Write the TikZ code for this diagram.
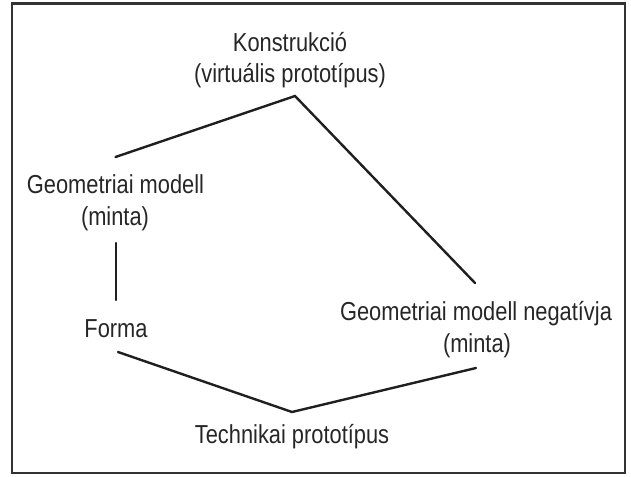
\documentclass[tikz,border=0pt]{standalone}
\usepackage{fontspec}
\setmainfont[FakeStretch=0.84]{Liberation Sans}
\begin{document}
\begin{tikzpicture}[x=1pt,y=-1pt,
  lbl/.style={anchor=base,inner sep=0pt,font=\fontsize{26}{32}\selectfont,text=black!85},
  conn/.style={line width=2.4pt,draw=black!88,line cap=round,line join=miter}]
\useasboundingbox (0,0) rectangle (631,476);
\draw[line width=2.6pt,draw=black!80] (12,3.5) rectangle (625,473);
% texts
\node[lbl] (kon1) at (290,52) {Konstrukció};
\node[lbl] (kon2) at (290,83) {(virtuális prototípus)};
\node[lbl] (geo1) at (115.5,193) {Geometriai modell};
\node[lbl] (geo2) at (115,225) {(minta)};
\node[lbl] (forma) at (116,337) {Forma};
\node[lbl] (neg1) at (476,320) {Geometriai modell negatívja};
\node[lbl] (neg2) at (477,352) {(minta)};
\node[lbl] (tech) at (292,443) {Technikai prototípus};
% connector helpers
\coordinate (apex) at (295,96);
\coordinate (vertex) at ([yshift=31pt]tech.base);
% connectors
\draw[conn] ([yshift=36pt]geo1.base) -- (apex) -- ([yshift=37pt,xshift=-1pt]neg1.base);
\draw[conn] ([yshift=-18pt,xshift=1pt]geo2.base) -- ([yshift=37pt]forma.base);
\draw[conn] ([yshift=-15pt,xshift=2pt]forma.base) -- (vertex) -- ([yshift=-16pt,xshift=-1pt]neg2.base);
\end{tikzpicture}
\end{document}
